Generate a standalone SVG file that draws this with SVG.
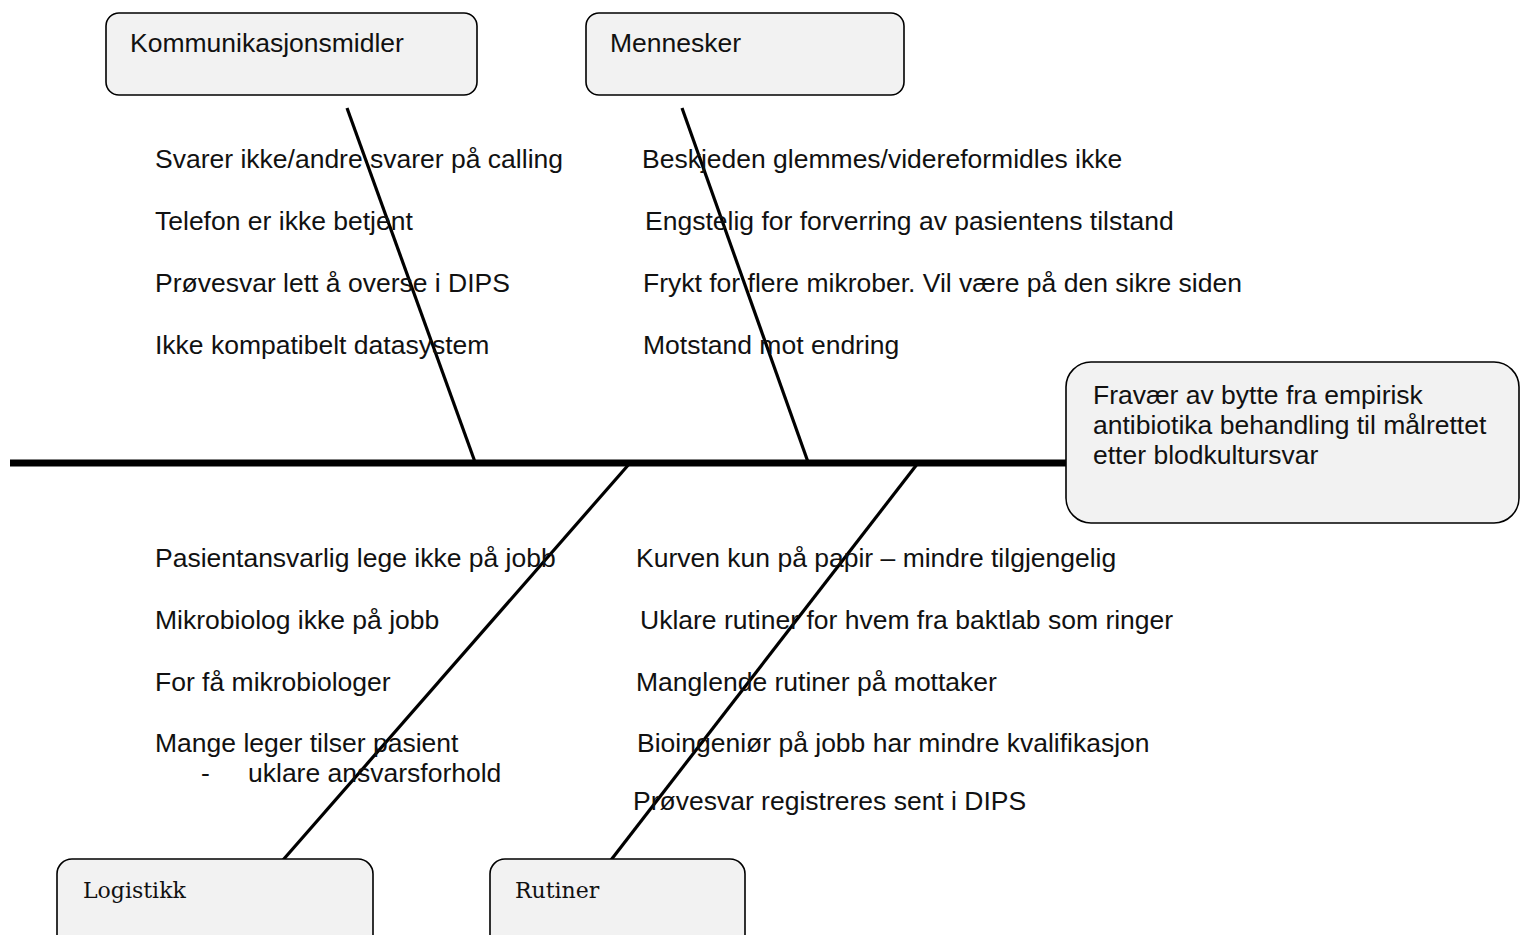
<svg xmlns="http://www.w3.org/2000/svg" width="1520" height="935" viewBox="0 0 1520 935">
<style>
.box{fill:#f2f2f2;stroke:#000;stroke-width:1.6}
.t{font-family:"Liberation Sans",Arial,sans-serif;font-size:26.5px;fill:#111}
.s{font-family:"DejaVu Serif","Liberation Serif",serif;font-size:22px;fill:#111}
.bone{stroke:#000;stroke-width:3.2;fill:none}
</style>
<rect width="1520" height="935" fill="#fff"/>
<g id="connectors">
<line x1="10" y1="463" x2="1066" y2="463" stroke="#000" stroke-width="7"/>
<line class="bone" x1="347" y1="108" x2="475" y2="462"/>
<line class="bone" x1="682" y1="108" x2="808" y2="462"/>
<line class="bone" x1="630" y1="463" x2="283" y2="860"/>
<line class="bone" x1="918" y1="463" x2="611" y2="860"/>
</g>
<g id="kommunikasjonsmidler">
<rect class="box" x="106" y="13" width="371" height="82" rx="13"/>
<text class="t" x="130" y="52">Kommunikasjonsmidler</text>
</g>
<g id="mennesker">
<rect class="box" x="586" y="13" width="318" height="82" rx="13"/>
<text class="t" x="610" y="52">Mennesker</text>
</g>
<g id="effekt">
<rect class="box" x="1066" y="362" width="453" height="161" rx="25"/>
<text class="t" x="1093" y="404">Fravær av bytte fra empirisk</text>
<text class="t" x="1093" y="434">antibiotika behandling til målrettet</text>
<text class="t" x="1093" y="464">etter blodkultursvar</text>
</g>
<g id="logistikk">
<rect class="box" x="57" y="859" width="316" height="100" rx="15"/>
<text class="s" x="83" y="898">Logistikk</text>
</g>
<g id="rutiner">
<rect class="box" x="490" y="859" width="255" height="100" rx="15"/>
<text class="s" x="515" y="898">Rutiner</text>
</g>
<g id="arsaker-kommunikasjon">
<text class="t" x="155" y="168">Svarer ikke/andre svarer på calling</text>
<text class="t" x="155" y="230">Telefon er ikke betjent</text>
<text class="t" x="155" y="292">Prøvesvar lett å overse i DIPS</text>
<text class="t" x="155" y="354">Ikke kompatibelt datasystem</text>
</g>
<g id="arsaker-mennesker">
<text class="t" x="642" y="168">Beskjeden glemmes/videreformidles ikke</text>
<text class="t" x="645" y="230">Engstelig for forverring av pasientens tilstand</text>
<text class="t" x="643" y="292">Frykt for flere mikrober. Vil være på den sikre siden</text>
<text class="t" x="643" y="354">Motstand mot endring</text>
</g>
<g id="arsaker-logistikk">
<text class="t" x="155" y="567">Pasientansvarlig lege ikke på jobb</text>
<text class="t" x="155" y="629">Mikrobiolog ikke på jobb</text>
<text class="t" x="155" y="691">For få mikrobiologer</text>
<text class="t" x="155" y="752">Mange leger tilser pasient</text>
<text class="t" x="201" y="782">-</text>
<text class="t" x="248" y="782">uklare ansvarsforhold</text>
</g>
<g id="arsaker-rutiner">
<text class="t" x="636" y="567">Kurven kun på papir – mindre tilgjengelig</text>
<text class="t" x="640" y="629">Uklare rutiner for hvem fra baktlab som ringer</text>
<text class="t" x="636" y="691">Manglende rutiner på mottaker</text>
<text class="t" x="637" y="752">Bioingeniør på jobb har mindre kvalifikasjon</text>
<text class="t" x="633" y="810">Prøvesvar registreres sent i DIPS</text>
</g>
</svg>
